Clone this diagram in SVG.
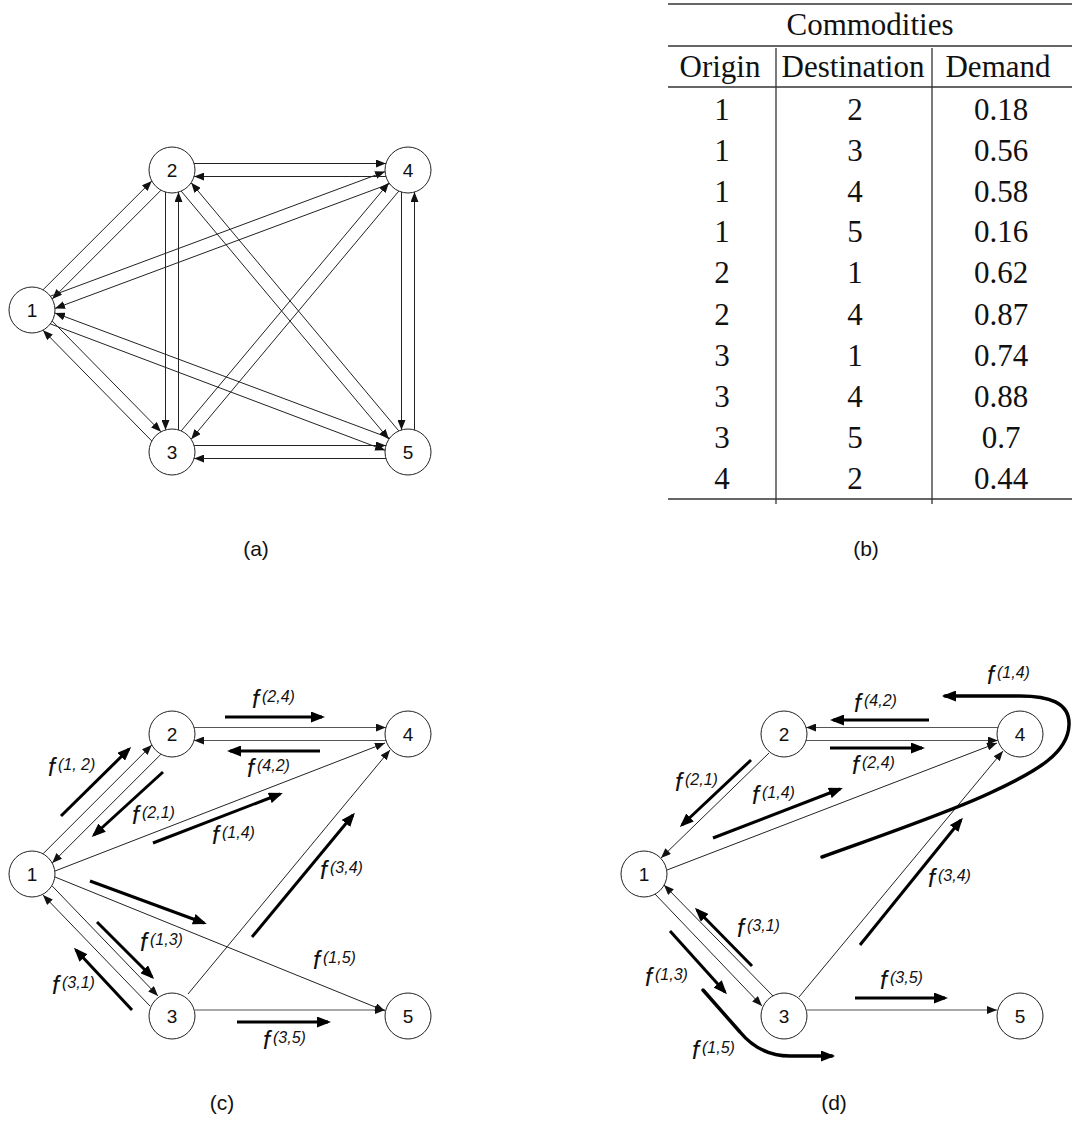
<svg xmlns="http://www.w3.org/2000/svg" width="1072" height="1128" viewBox="0 0 1072 1128">
<style>
.bg{fill:#fff}
.node circle{fill:#fff;stroke:#222;stroke-width:1}
.node text{font-family:"Liberation Sans",Arial,sans-serif;font-size:19px;text-anchor:middle;fill:#111}
.e{stroke:#222;stroke-width:1;fill:none;marker-end:url(#ah)}
.eg{stroke:#555;stroke-width:1.2;fill:none;marker-end:url(#ah)}
.fl{stroke:#000;stroke-width:3;fill:none;marker-end:url(#AH)}
.fc{stroke:#000;stroke-width:3.5;fill:none;marker-end:url(#AH);stroke-linecap:round}
.lb{font-family:"Liberation Sans",Arial,sans-serif;font-style:italic;font-size:25px;fill:#111}
.sp{font-size:16px}
.cap{font-family:"Liberation Sans",Arial,sans-serif;font-size:21px;text-anchor:middle;fill:#111}
.tb{font-family:"Liberation Serif","Times New Roman",serif;font-size:31px;text-anchor:middle;fill:#111}
.rule{stroke:#333;stroke-width:1.3}
</style>
<defs>
<marker id="ah" markerUnits="userSpaceOnUse" markerWidth="10" markerHeight="8" refX="10" refY="4" orient="auto"><path d="M0,0 L10,4 L0,8 z" fill="#111"/></marker>
<marker id="AH" markerUnits="userSpaceOnUse" markerWidth="14" markerHeight="11" refX="11" refY="5.5" orient="auto"><path d="M0,0 L14,5.5 L0,11 z" fill="#000"/></marker>
</defs>
<rect class="bg" x="0" y="0" width="1072" height="1128"/>

<!-- Panel (a) connectors -->
<g id="a-edges">
<line class="e" x1="43" y1="289.8" x2="151.8" y2="181"/>
<line class="e" x1="161" y1="190.2" x2="52.2" y2="299"/>
<line class="e" x1="52.2" y1="321" x2="161" y2="431.8"/>
<line class="e" x1="151.8" y1="441" x2="43" y2="330.2"/>
<line class="e" x1="50.4" y1="296.2" x2="385.1" y2="171.6"/>
<line class="e" x1="389.6" y1="183.8" x2="55" y2="308.4"/>
<line class="e" x1="50.4" y1="323.9" x2="385.1" y2="450.3"/>
<line class="e" x1="389.7" y1="438.1" x2="55" y2="313"/>
<line class="e" x1="165.5" y1="192.1" x2="165.5" y2="429.9"/>
<line class="e" x1="178.5" y1="429.9" x2="178.5" y2="192.1"/>
<line class="e" x1="194.1" y1="163.5" x2="385.9" y2="163.5"/>
<line class="e" x1="385.9" y1="176.5" x2="194.1" y2="176.5"/>
<line class="e" x1="181.2" y1="191.1" x2="388.9" y2="439.2"/>
<line class="e" x1="398.8" y1="430.9" x2="191.2" y2="182.8"/>
<line class="e" x1="181.2" y1="430.9" x2="388.9" y2="182.8"/>
<line class="e" x1="398.8" y1="191.1" x2="191.2" y2="439.2"/>
<line class="e" x1="194.1" y1="445.5" x2="385.9" y2="445.5"/>
<line class="e" x1="385.9" y1="458.5" x2="194.1" y2="458.5"/>
<line class="e" x1="401.5" y1="192.1" x2="401.5" y2="429.9"/>
<line class="e" x1="414.5" y1="429.9" x2="414.5" y2="192.1"/>
</g>
<g id="a-n1" class="node"><circle cx="32" cy="310" r="23"/><text x="32" y="317">1</text></g>
<g id="a-n2" class="node"><circle cx="172" cy="170" r="23"/><text x="172" y="177">2</text></g>
<g id="a-n3" class="node"><circle cx="172" cy="452" r="23"/><text x="172" y="459">3</text></g>
<g id="a-n4" class="node"><circle cx="408" cy="170" r="23"/><text x="408" y="177">4</text></g>
<g id="a-n5" class="node"><circle cx="408" cy="452" r="23"/><text x="408" y="459">5</text></g>
<text class="cap" x="256" y="556">(a)</text>

<!-- Panel (b) table -->
<g id="b-table">
<line class="rule" x1="668" y1="4" x2="1072" y2="4"/>
<line class="rule" x1="668" y1="46" x2="1072" y2="46"/>
<line class="rule" x1="668" y1="87" x2="1072" y2="87"/>
<line class="rule" x1="668" y1="499" x2="1072" y2="499"/>
<line class="rule" x1="776" y1="48" x2="776" y2="504"/>
<line class="rule" x1="932" y1="48" x2="932" y2="504"/>
<text class="tb" x="870" y="35">Commodities</text>
<text class="tb" x="720" y="77">Origin</text>
<text class="tb" x="853" y="77">Destination</text>
<text class="tb" x="998" y="77">Demand</text>
<text class="tb" x="722" y="120">1</text><text class="tb" x="855" y="120">2</text><text class="tb" x="1001" y="120">0.18</text>
<text class="tb" x="722" y="161">1</text><text class="tb" x="855" y="161">3</text><text class="tb" x="1001" y="161">0.56</text>
<text class="tb" x="722" y="202">1</text><text class="tb" x="855" y="202">4</text><text class="tb" x="1001" y="202">0.58</text>
<text class="tb" x="722" y="242">1</text><text class="tb" x="855" y="242">5</text><text class="tb" x="1001" y="242">0.16</text>
<text class="tb" x="722" y="283">2</text><text class="tb" x="855" y="283">1</text><text class="tb" x="1001" y="283">0.62</text>
<text class="tb" x="722" y="325">2</text><text class="tb" x="855" y="325">4</text><text class="tb" x="1001" y="325">0.87</text>
<text class="tb" x="722" y="366">3</text><text class="tb" x="855" y="366">1</text><text class="tb" x="1001" y="366">0.74</text>
<text class="tb" x="722" y="407">3</text><text class="tb" x="855" y="407">4</text><text class="tb" x="1001" y="407">0.88</text>
<text class="tb" x="722" y="448">3</text><text class="tb" x="855" y="448">5</text><text class="tb" x="1001" y="448">0.7</text>
<text class="tb" x="722" y="489">4</text><text class="tb" x="855" y="489">2</text><text class="tb" x="1001" y="489">0.44</text>
</g>
<text class="cap" x="866" y="556">(b)</text>

<!-- Panel (c) connectors -->
<g id="c-edges">
<line class="e" x1="43" y1="853.8" x2="151.8" y2="745"/>
<line class="e" x1="161" y1="754.2" x2="52.2" y2="863"/>
<line class="eg" x1="194.1" y1="727.5" x2="385.9" y2="727.5"/>
<line class="eg" x1="385.9" y1="740.5" x2="194.1" y2="740.5"/>
<line class="e" x1="55" y1="871" x2="385" y2="743"/>
<line class="e" x1="52.2" y1="886" x2="158" y2="996"/>
<line class="e" x1="150" y1="1006" x2="43" y2="895"/>
<line class="e" x1="55" y1="877" x2="385" y2="1011"/>
<line class="e" x1="188" y1="994" x2="390" y2="750"/>
<line class="eg" x1="195" y1="1010" x2="385" y2="1010"/>
</g>
<g id="c-flows">
<line class="fl" x1="225" y1="717" x2="322" y2="717"/>
<line class="fl" x1="320" y1="751" x2="230" y2="751"/>
<line class="fl" x1="61" y1="816" x2="129" y2="749"/>
<line class="fl" x1="163" y1="772" x2="94" y2="835"/>
<line class="fl" x1="153" y1="843" x2="280" y2="794"/>
<line class="fl" x1="90" y1="881" x2="204" y2="923"/>
<line class="fl" x1="97" y1="922" x2="152" y2="977"/>
<line class="fl" x1="132" y1="1010" x2="76" y2="950"/>
<line class="fl" x1="252" y1="937" x2="353" y2="815"/>
<line class="fl" x1="237" y1="1022" x2="328" y2="1022"/>
</g>
<g id="c-labels">
<text class="lb" x="252" y="708">f<tspan class="sp" dx="3" dy="-6">(2,4)</tspan></text>
<text class="lb" x="247" y="777">f<tspan class="sp" dx="3" dy="-6">(4,2)</tspan></text>
<text class="lb" x="48" y="776">f<tspan class="sp" dx="3" dy="-6">(1, 2)</tspan></text>
<text class="lb" x="132" y="824">f<tspan class="sp" dx="3" dy="-6">(2,1)</tspan></text>
<text class="lb" x="212" y="844">f<tspan class="sp" dx="3" dy="-6">(1,4)</tspan></text>
<text class="lb" x="320" y="879">f<tspan class="sp" dx="3" dy="-6">(3,4)</tspan></text>
<text class="lb" x="140" y="951">f<tspan class="sp" dx="3" dy="-6">(1,3)</tspan></text>
<text class="lb" x="313" y="969">f<tspan class="sp" dx="3" dy="-6">(1,5)</tspan></text>
<text class="lb" x="52" y="994">f<tspan class="sp" dx="3" dy="-6">(3,1)</tspan></text>
<text class="lb" x="263" y="1049">f<tspan class="sp" dx="3" dy="-6">(3,5)</tspan></text>
</g>
<g id="c-n1" class="node"><circle cx="32" cy="874" r="23"/><text x="32" y="881">1</text></g>
<g id="c-n2" class="node"><circle cx="172" cy="734" r="23"/><text x="172" y="741">2</text></g>
<g id="c-n3" class="node"><circle cx="172" cy="1016" r="23"/><text x="172" y="1023">3</text></g>
<g id="c-n4" class="node"><circle cx="408" cy="734" r="23"/><text x="408" y="741">4</text></g>
<g id="c-n5" class="node"><circle cx="408" cy="1016" r="23"/><text x="408" y="1023">5</text></g>
<text class="cap" x="222" y="1110">(c)</text>

<!-- Panel (d) connectors -->
<g id="d-edges">
<line class="eg" x1="997.9" y1="727.5" x2="806.1" y2="727.5"/>
<line class="eg" x1="806.1" y1="740.5" x2="997.9" y2="740.5"/>
<line class="e" x1="769" y1="753" x2="661" y2="858"/>
<line class="e" x1="667" y1="870" x2="997" y2="743"/>
<line class="e" x1="799" y1="997" x2="1003" y2="751"/>
<line class="e" x1="655" y1="894" x2="762" y2="1006"/>
<line class="e" x1="773" y1="996" x2="664" y2="885"/>
<line class="eg" x1="807" y1="1010" x2="997" y2="1010"/>
</g>
<g id="d-flows">
<line class="fl" x1="929" y1="720" x2="833" y2="720"/>
<line class="fl" x1="830" y1="748" x2="922" y2="748"/>
<line class="fl" x1="751" y1="760" x2="682" y2="825"/>
<line class="fl" x1="713" y1="838" x2="840" y2="789"/>
<path class="fc" d="M822,857 C880,836 950,812 990,793 C1040,770 1068,752 1069,725 C1070,702 1048,696 1020,696 L945,696"/>
<line class="fl" x1="860" y1="945" x2="961" y2="820"/>
<line class="fl" x1="752" y1="966" x2="697" y2="910"/>
<line class="fl" x1="670" y1="931" x2="725" y2="992"/>
<path class="fc" d="M703,990 L740,1032 Q760,1056 790,1056 L832,1056"/>
<line class="fl" x1="855" y1="998" x2="945" y2="998"/>
</g>
<g id="d-labels">
<text class="lb" x="987" y="684">f<tspan class="sp" dx="3" dy="-6">(1,4)</tspan></text>
<text class="lb" x="854" y="712">f<tspan class="sp" dx="3" dy="-6">(4,2)</tspan></text>
<text class="lb" x="852" y="774">f<tspan class="sp" dx="3" dy="-6">(2,4)</tspan></text>
<text class="lb" x="675" y="791">f<tspan class="sp" dx="3" dy="-6">(2,1)</tspan></text>
<text class="lb" x="752" y="804">f<tspan class="sp" dx="3" dy="-6">(1,4)</tspan></text>
<text class="lb" x="928" y="887">f<tspan class="sp" dx="3" dy="-6">(3,4)</tspan></text>
<text class="lb" x="737" y="937">f<tspan class="sp" dx="3" dy="-6">(3,1)</tspan></text>
<text class="lb" x="645" y="986">f<tspan class="sp" dx="3" dy="-6">(1,3)</tspan></text>
<text class="lb" x="880" y="989">f<tspan class="sp" dx="3" dy="-6">(3,5)</tspan></text>
<text class="lb" x="692" y="1059">f<tspan class="sp" dx="3" dy="-6">(1,5)</tspan></text>
</g>
<g id="d-n1" class="node"><circle cx="644" cy="874" r="23"/><text x="644" y="881">1</text></g>
<g id="d-n2" class="node"><circle cx="784" cy="734" r="23"/><text x="784" y="741">2</text></g>
<g id="d-n3" class="node"><circle cx="784" cy="1016" r="23"/><text x="784" y="1023">3</text></g>
<g id="d-n4" class="node"><circle cx="1020" cy="734" r="23"/><text x="1020" y="741">4</text></g>
<g id="d-n5" class="node"><circle cx="1020" cy="1016" r="23"/><text x="1020" y="1023">5</text></g>
<text class="cap" x="834" y="1110">(d)</text>
</svg>
